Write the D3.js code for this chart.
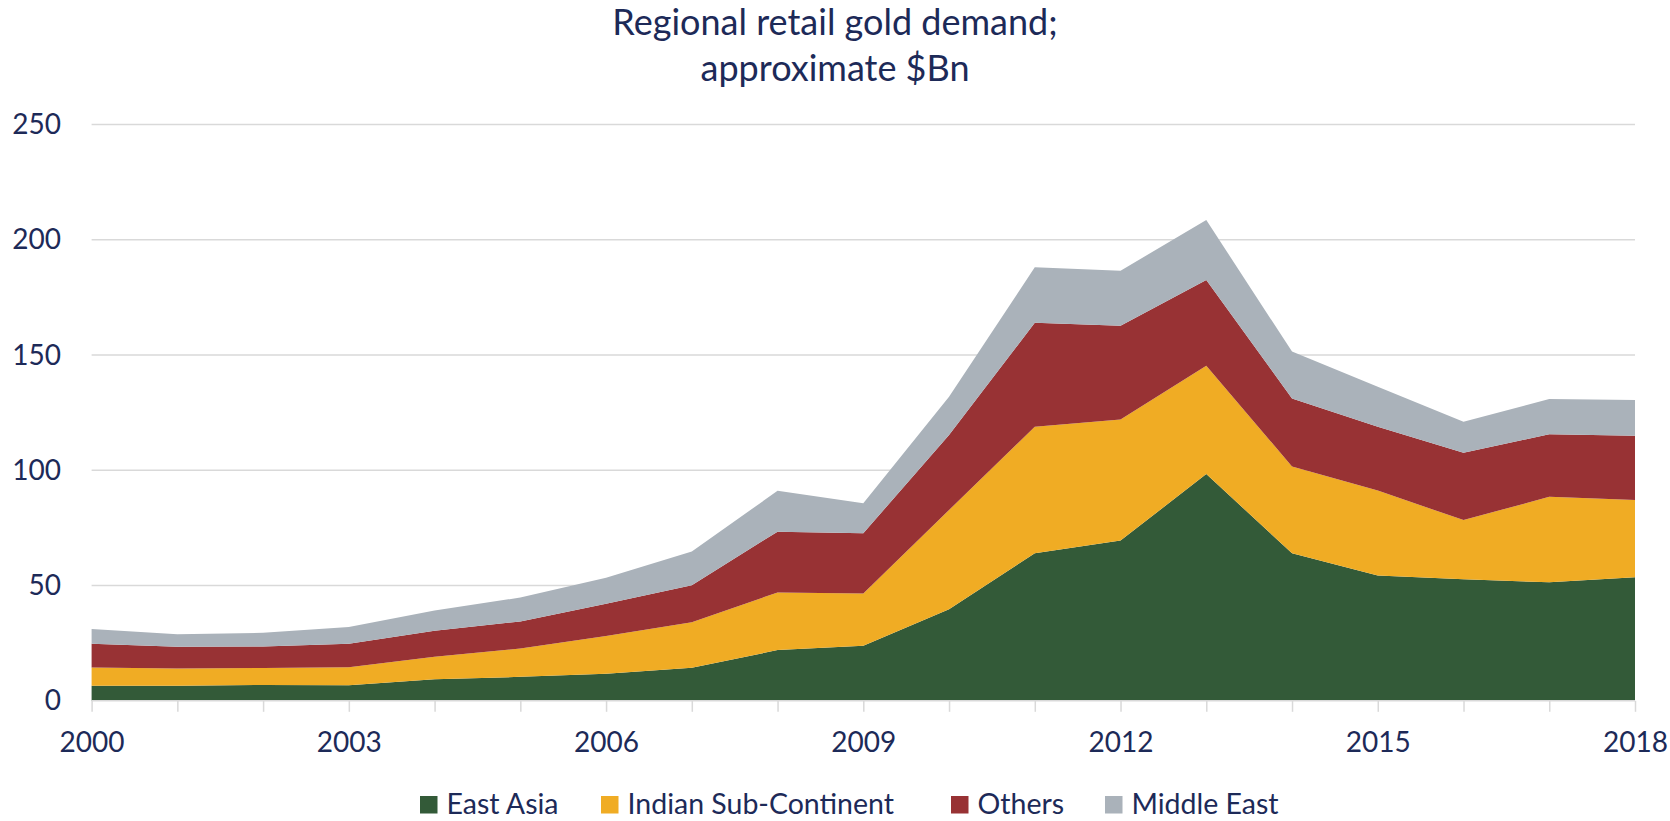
<!DOCTYPE html>
<html>
<head>
<meta charset="utf-8">
<script src="https://cdn.jsdelivr.net/npm/d3@7"></script>
<style>
  html, body { margin: 0; padding: 0; background: #ffffff; }
  svg { display: block; }
  text { font-family: Lato, "Open Sans", sans-serif; fill: #1d2a58; }
</style>
</head>
<body>
<svg id="chart" width="1670" height="821"></svg>
<script>
// Years on the x axis
const years = [2000, 2001, 2002, 2003, 2004, 2005, 2006, 2007, 2008, 2009,
               2010, 2011, 2012, 2013, 2014, 2015, 2016, 2017, 2018];

// Retail gold demand by region, $Bn
const eastAsia      = [6.5, 6.5, 6.9, 6.8, 9.3, 10.4, 11.7, 14.3, 22.0, 23.9,
                       39.7, 64.0, 69.5, 98.4, 64.0, 54.4, 52.7, 51.4, 53.6];
const indianSubCont = [8.0, 7.5, 7.3, 7.8, 9.8, 12.3, 16.4, 19.8, 25.0, 22.7,
                       43.1, 54.9, 52.5, 47.0, 37.7, 36.8, 25.7, 37.1, 33.5];
const others        = [10.2, 9.4, 9.4, 10.1, 11.3, 11.7, 14.0, 16.0, 26.4, 26.1,
                       32.5, 45.1, 40.7, 37.2, 29.5, 27.7, 29.2, 27.2, 27.9];
const middleEast    = [6.5, 5.5, 5.9, 7.3, 8.8, 10.4, 11.3, 14.7, 17.7, 13.0,
                       16.6, 24.1, 23.9, 26.0, 20.3, 17.4, 13.5, 15.2, 15.5];

const seriesNames  = ["East Asia", "Indian Sub-Continent", "Others", "Middle East"];
const seriesColors = ["#335a38", "#f0ac24", "#983234", "#aab2ba"];

const yTicks = [0, 50, 100, 150, 200, 250];
const xLabelYears = [2000, 2003, 2006, 2009, 2012, 2015, 2018];

const titleLines = ["Regional retail gold demand;", "approximate $Bn"];

// Rows for the stack layout
const seriesValues = [eastAsia, indianSubCont, others, middleEast];
const rows = years.map((yr, i) => {
  const row = { year: yr };
  seriesNames.forEach((name, s) => { row[name] = seriesValues[s][i]; });
  return row;
});

const svg = d3.select("#chart");
const plot = { left: 91.6, right: 1635, top: 124.6, bottom: 700.8 };

const x = d3.scaleLinear().domain([2000, 2018]).range([plot.left, plot.right]);
const y = d3.scaleLinear().domain([0, 250]).range([plot.bottom, plot.top]);

// Horizontal gridlines
svg.append("g")
  .selectAll("line")
  .data(yTicks.filter(t => t > 0))
  .join("line")
  .attr("x1", plot.left).attr("x2", plot.right)
  .attr("y1", d => y(d)).attr("y2", d => y(d))
  .attr("stroke", "#d9d9d9").attr("stroke-width", 1.5);

// Stacked areas
const stack = d3.stack().keys(seriesNames);
const layers = stack(rows);
const area = d3.area()
  .x(d => x(d.data.year))
  .y0(d => y(d[0]))
  .y1(d => y(d[1]));

svg.append("g")
  .selectAll("path")
  .data(layers)
  .join("path")
  .attr("d", area)
  .attr("fill", (d, i) => seriesColors[i]);

// Y axis labels
const yAxis = d3.axisLeft(y).tickValues(yTicks).tickSize(0).tickPadding(0);
const yg = svg.append("g").attr("transform", `translate(61,0)`).call(yAxis);
yg.select(".domain").remove();
yg.selectAll("text")
  .attr("font-size", 28)
  .attr("font-family", "Lato, sans-serif")
  .attr("fill", "#1d2a58");

// X axis: baseline, yearly ticks, labels every third year
const xAxis = d3.axisBottom(x)
  .tickValues(years)
  .tickSize(11)
  .tickPadding(20)
  .tickFormat(d => xLabelYears.includes(d) ? String(d) : "");
const xg = svg.append("g").attr("transform", `translate(0,${plot.bottom})`).call(xAxis);
xg.select(".domain")
  .attr("d", `M${plot.left},0H${plot.right}`)
  .attr("stroke", "#d9d9d9").attr("stroke-width", 1.5);
xg.selectAll(".tick line").attr("stroke", "#d9d9d9").attr("stroke-width", 1.5);
xg.selectAll("text")
  .attr("font-size", 28)
  .attr("font-family", "Lato, sans-serif")
  .attr("fill", "#1d2a58");

// Title
svg.append("g")
  .selectAll("text")
  .data(titleLines)
  .join("text")
  .attr("x", 835)
  .attr("y", (d, i) => 35 + i * 46)
  .attr("text-anchor", "middle")
  .attr("font-size", 36)
  .text(d => d);

// Legend: swatch positions along the bottom row
const legendX = [420, 601, 951, 1105];
const legend = svg.append("g").attr("transform", "translate(0,796)");
seriesNames.forEach((name, i) => {
  const item = legend.append("g").attr("transform", `translate(${legendX[i]},0)`);
  item.append("rect").attr("x", 0).attr("y", 0).attr("width", 17.5).attr("height", 17.5)
    .attr("fill", seriesColors[i]);
  item.append("text").attr("x", 26.5).attr("y", 17.5)
    .attr("font-size", 28.5).text(name);
});
</script>
</body>
</html>
